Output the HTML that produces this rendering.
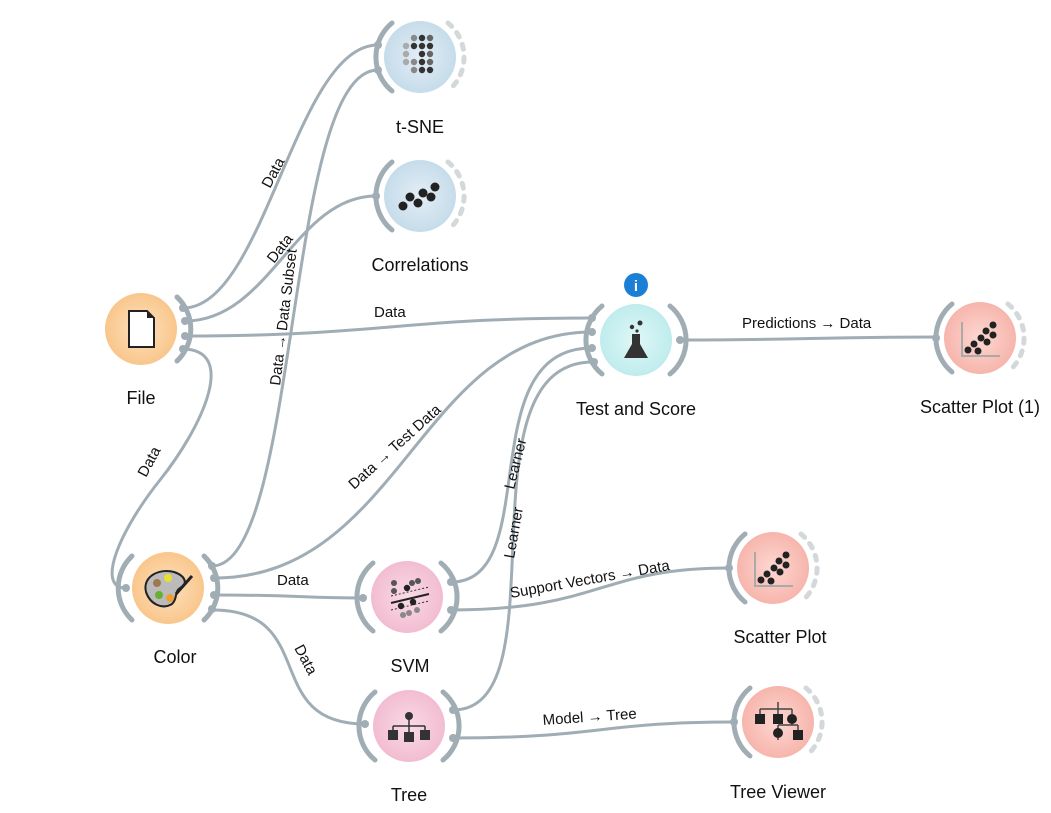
<!DOCTYPE html>
<html><head><meta charset="utf-8"><style>
html,body{margin:0;padding:0;background:#fff;}
svg{display:block;font-family:"Liberation Sans",sans-serif;}
.ln{fill:none;stroke:#a1adb5;stroke-width:3;}
.arc{fill:none;stroke:#a1adb5;stroke-width:5;stroke-linecap:round;}
.dash{fill:none;stroke:#d3d8db;stroke-width:5;stroke-linecap:round;stroke-dasharray:5 8;}
.an{fill:#a1adb5;}
.lb{font-size:15px;fill:#111;}
.nl{font-size:18px;fill:#111;text-anchor:middle;}
</style></head><body>
<svg width="1051" height="813" viewBox="0 0 1051 813">
<defs>
<radialGradient id="gO" cx="50%" cy="50%" r="50%"><stop offset="0" stop-color="#fde2bf"/><stop offset="1" stop-color="#f9c68c"/></radialGradient>
<radialGradient id="gB" cx="50%" cy="50%" r="50%"><stop offset="0" stop-color="#e3eef6"/><stop offset="1" stop-color="#c6dcea"/></radialGradient>
<radialGradient id="gC" cx="50%" cy="50%" r="50%"><stop offset="0" stop-color="#e0f7f7"/><stop offset="1" stop-color="#bfeced"/></radialGradient>
<radialGradient id="gR" cx="50%" cy="50%" r="50%"><stop offset="0" stop-color="#fdd8d2"/><stop offset="1" stop-color="#f6b5ac"/></radialGradient>
<radialGradient id="gP" cx="50%" cy="50%" r="50%"><stop offset="0" stop-color="#f9dbe6"/><stop offset="1" stop-color="#f2bcd1"/></radialGradient>
</defs>

<path class="ln" d="M183,308 C265,308 295,45 378,45"/>
<path class="ln" d="M185,321 C270,321 295,196 376,196"/>
<path class="ln" d="M185,336 C380,336 400,318 592,318"/>
<path class="ln" d="M182,349 C240,349 200,430 160,480 C120,530 95,588 126,588"/>
<path class="ln" d="M212,566 C300,566 285,70 378,70"/>
<path class="ln" d="M214,578 C400,578 420,332 592,332"/>
<path class="ln" d="M216,595 C300,595 300,598 363,598"/>
<path class="ln" d="M213,610 C320,610 260,724 365,724"/>
<path class="ln" d="M451,582 C545,582 470,348 592,348"/>
<path class="ln" d="M453,710 C565,710 455,362 593,362"/>
<path class="ln" d="M451,610 C600,610 600,568 729,568"/>
<path class="ln" d="M453,738 C600,738 600,722 734,722"/>
<path class="ln" d="M680,340 C800,340 820,337 936,337"/>

<text class="lb" transform="translate(270,189) rotate(-62)">Data</text>
<text class="lb" transform="translate(274,264) rotate(-52)">Data</text>
<text class="lb" transform="translate(280,386) rotate(-83)">Data → Data Subset</text>
<text class="lb" x="374" y="317">Data</text>
<text class="lb" transform="translate(146,478) rotate(-62)">Data</text>
<text class="lb" transform="translate(354,490) rotate(-42)">Data → Test Data</text>
<text class="lb" x="277" y="585">Data</text>
<text class="lb" transform="translate(294,648) rotate(62)">Data</text>
<text class="lb" transform="translate(514,490) rotate(-76)">Learner</text>
<text class="lb" transform="translate(514,559) rotate(-80)">Learner</text>
<text class="lb" transform="translate(511,598) rotate(-10)">Support Vectors → Data</text>
<text class="lb" transform="translate(543,725) rotate(-4)">Model → Tree</text>
<text class="lb" x="742" y="328">Predictions → Data</text>

<g transform="translate(420,57)">
<circle r="36" fill="url(#gB)"/>
<path class="arc" d="M-28,-34 A44,44 0 0 0 -28,34"/>
<path class="dash" d="M28,-34 A44,44 0 0 1 28,34"/>
<g fill="#333"><circle cx="-6" cy="-19" r="3.2" fill="#888"/><circle cx="2" cy="-19" r="3.2"/><circle cx="10" cy="-19" r="3.2" fill="#666"/>
<circle cx="-14" cy="-11" r="3.2" fill="#aaa"/><circle cx="-6" cy="-11" r="3.2"/><circle cx="2" cy="-11" r="3.2"/><circle cx="10" cy="-11" r="3.2"/>
<circle cx="-14" cy="-3" r="3.2" fill="#aaa"/><circle cx="2" cy="-3" r="3.2"/><circle cx="10" cy="-3" r="3.2" fill="#666"/>
<circle cx="-14" cy="5" r="3.2" fill="#aaa"/><circle cx="-6" cy="5" r="3.2" fill="#888"/><circle cx="2" cy="5" r="3.2"/><circle cx="10" cy="5" r="3.2" fill="#666"/>
<circle cx="-6" cy="13" r="3.2" fill="#888"/><circle cx="2" cy="13" r="3.2"/><circle cx="10" cy="13" r="3.2"/></g>
<circle class="an" cx="-42" cy="-12" r="4"/><circle class="an" cx="-42" cy="13" r="4"/>
</g>
<text class="nl" x="420" y="133">t-SNE</text>

<g transform="translate(420,196)">
<circle r="36" fill="url(#gB)"/>
<path class="arc" d="M-28,-34 A44,44 0 0 0 -28,34"/>
<path class="dash" d="M28,-34 A44,44 0 0 1 28,34"/>
<g fill="#222"><circle cx="-17" cy="10" r="4.5"/><circle cx="-10" cy="1" r="4.5"/><circle cx="-2" cy="7" r="4.5"/><circle cx="3" cy="-3" r="4.5"/><circle cx="11" cy="1" r="4.5"/><circle cx="15" cy="-9" r="4.5"/></g>
<circle class="an" cx="-44" cy="0" r="4"/>
</g>
<text class="nl" x="420" y="271">Correlations</text>

<g transform="translate(141,329)">
<circle r="36" fill="url(#gO)"/>
<path class="arc" d="M36,-32 A44,44 0 0 1 36,32"/>
<path d="M-12,-18 L6,-18 L13,-11 L13,18 L-12,18 Z" fill="#fff" stroke="#222" stroke-width="2"/>
<path d="M6,-18 L13,-11 L6,-11 Z" fill="#222"/>
<circle class="an" cx="42" cy="-21" r="4"/><circle class="an" cx="44" cy="-8" r="4"/><circle class="an" cx="44" cy="7" r="4"/><circle class="an" cx="42" cy="20" r="4"/>
</g>
<text class="nl" x="141" y="404">File</text>

<g transform="translate(636,340)">
<circle r="36" fill="url(#gC)"/>
<path class="arc" d="M-34,-34 A44,44 0 0 0 -34,34"/>
<path class="arc" d="M34,-34 A44,44 0 0 1 34,34"/>
<path d="M-4,-6 L-4,4 L-12,18 L12,18 L4,4 L4,-6 Z" fill="#333"/>
<circle cx="-4" cy="-13" r="2.2" fill="#333"/><circle cx="4" cy="-17" r="2.5" fill="#333"/><circle cx="1" cy="-9" r="1.6" fill="#333"/>
<circle class="an" cx="-44" cy="-22" r="4"/><circle class="an" cx="-44" cy="-8" r="4"/><circle class="an" cx="-44" cy="8" r="4"/><circle class="an" cx="-42" cy="22" r="4"/>
<circle class="an" cx="44" cy="0" r="4"/>
</g>
<circle cx="636" cy="285" r="12" fill="#1c7fd6"/>
<text x="636" y="291" font-size="15" font-weight="bold" fill="#fff" text-anchor="middle">i</text>
<text class="nl" x="636" y="415">Test and Score</text>

<g transform="translate(980,338)">
<circle r="36" fill="url(#gR)"/>
<path class="arc" d="M-28,-34 A44,44 0 0 0 -28,34"/>
<path class="dash" d="M28,-34 A44,44 0 0 1 28,34"/>
<path d="M-18,-16 L-18,18 L20,18" fill="none" stroke="#aaa" stroke-width="2"/>
<g fill="#222"><circle cx="-12" cy="12" r="3.5"/><circle cx="-6" cy="6" r="3.5"/><circle cx="-2" cy="13" r="3.5"/><circle cx="1" cy="0" r="3.5"/><circle cx="7" cy="4" r="3.5"/><circle cx="6" cy="-7" r="3.5"/><circle cx="13" cy="-3" r="3.5"/><circle cx="13" cy="-13" r="3.5"/></g>
<circle class="an" cx="-44" cy="0" r="4"/>
</g>
<text class="nl" x="980" y="413">Scatter Plot (1)</text>

<g transform="translate(168,588)">
<circle r="36" fill="url(#gO)"/>
<path class="arc" d="M-36,-32 A44,44 0 0 0 -36,32"/>
<path class="arc" d="M36,-32 A44,44 0 0 1 36,32"/>
<path d="M-22,4 C-26,-12 -8,-20 6,-16 C18,-12 20,-4 12,0 C6,4 10,10 4,16 C-6,22 -18,16 -22,4 Z" fill="#bbb" stroke="#222" stroke-width="2"/>
<circle cx="0" cy="-10" r="4" fill="#e8e030"/><circle cx="-11" cy="-5" r="4" fill="#a07850"/><circle cx="-9" cy="7" r="4" fill="#6ab030"/><circle cx="2" cy="10" r="4" fill="#f0a030"/>
<path d="M8,6 L24,-12" stroke="#222" stroke-width="3"/>
<circle class="an" cx="-42" cy="0" r="4"/>
<circle class="an" cx="44" cy="-22" r="4"/><circle class="an" cx="46" cy="-10" r="4"/><circle class="an" cx="46" cy="7" r="4"/><circle class="an" cx="44" cy="21" r="4"/>
</g>
<text class="nl" x="175" y="663">Color</text>

<g transform="translate(407,597)">
<circle r="36" fill="url(#gP)"/>
<path class="arc" d="M-34,-34 A44,44 0 0 0 -34,34"/>
<path class="arc" d="M34,-34 A44,44 0 0 1 34,34"/>
<path d="M-16,6 L22,-3" stroke="#222" stroke-width="2"/>
<path d="M-16,-1 L22,-10 M-16,13 L22,4" stroke="#333" stroke-width="1" stroke-dasharray="2 2"/>
<g fill="#555"><circle cx="-13" cy="-14" r="3"/><circle cx="-13" cy="-6" r="3"/><circle cx="0" cy="-9" r="3.2" fill="#222"/><circle cx="5" cy="-14" r="3"/><circle cx="11" cy="-16" r="3"/><circle cx="-6" cy="9" r="3.2" fill="#222"/><circle cx="6" cy="5" r="3.2" fill="#222"/><circle cx="2" cy="16" r="3" fill="#888"/><circle cx="10" cy="13" r="3" fill="#888"/><circle cx="-4" cy="18" r="3" fill="#888"/></g>
<circle class="an" cx="-44" cy="1" r="4"/>
<circle class="an" cx="44" cy="-15" r="4"/><circle class="an" cx="44" cy="13" r="4"/>
</g>
<text class="nl" x="410" y="672">SVM</text>

<g transform="translate(773,568)">
<circle r="36" fill="url(#gR)"/>
<path class="arc" d="M-28,-34 A44,44 0 0 0 -28,34"/>
<path class="dash" d="M28,-34 A44,44 0 0 1 28,34"/>
<path d="M-18,-16 L-18,18 L20,18" fill="none" stroke="#aaa" stroke-width="2"/>
<g fill="#222"><circle cx="-12" cy="12" r="3.5"/><circle cx="-6" cy="6" r="3.5"/><circle cx="-2" cy="13" r="3.5"/><circle cx="1" cy="0" r="3.5"/><circle cx="7" cy="4" r="3.5"/><circle cx="6" cy="-7" r="3.5"/><circle cx="13" cy="-3" r="3.5"/><circle cx="13" cy="-13" r="3.5"/></g>
<circle class="an" cx="-44" cy="0" r="4"/>
</g>
<text class="nl" x="780" y="643">Scatter Plot</text>

<g transform="translate(409,726)">
<circle r="36" fill="url(#gP)"/>
<path class="arc" d="M-34,-34 A44,44 0 0 0 -34,34"/>
<path class="arc" d="M34,-34 A44,44 0 0 1 34,34"/>
<circle cx="0" cy="-10" r="4" fill="#333"/>
<path d="M0,-10 L0,0 M-16,0 L16,0 M-16,0 L-16,6 M0,0 L0,6 M16,0 L16,6" stroke="#333" stroke-width="1.5"/>
<rect x="-21" y="4" width="10" height="10" fill="#333"/><rect x="-5" y="6" width="10" height="10" fill="#333"/><rect x="11" y="4" width="10" height="10" fill="#333"/>
<circle class="an" cx="-44" cy="-2" r="4"/>
<circle class="an" cx="44" cy="-16" r="4"/><circle class="an" cx="44" cy="12" r="4"/>
</g>
<text class="nl" x="409" y="801">Tree</text>

<g transform="translate(778,722)">
<circle r="36" fill="url(#gR)"/>
<path class="arc" d="M-28,-34 A44,44 0 0 0 -28,34"/>
<path class="dash" d="M28,-34 A44,44 0 0 1 28,34"/>
<path d="M-18,-13 L14,-13 M0,-20 L0,-13 M-18,-13 L-18,-8 M0,-13 L0,-8 M14,-13 L14,-8 M14,-2 L14,3 M0,3 L20,3 M0,3 L0,18 M20,3 L20,8" stroke="#444" stroke-width="1.5" fill="none"/>
<rect x="-23" y="-8" width="10" height="10" fill="#222"/><rect x="-5" y="-8" width="10" height="10" fill="#222"/><circle cx="14" cy="-3" r="5" fill="#222"/>
<circle cx="0" cy="11" r="5" fill="#222"/><rect x="15" y="8" width="10" height="10" fill="#222"/>
<circle class="an" cx="-44" cy="0" r="4"/>
</g>
<text class="nl" x="778" y="798">Tree Viewer</text>
</svg>
</body></html>
